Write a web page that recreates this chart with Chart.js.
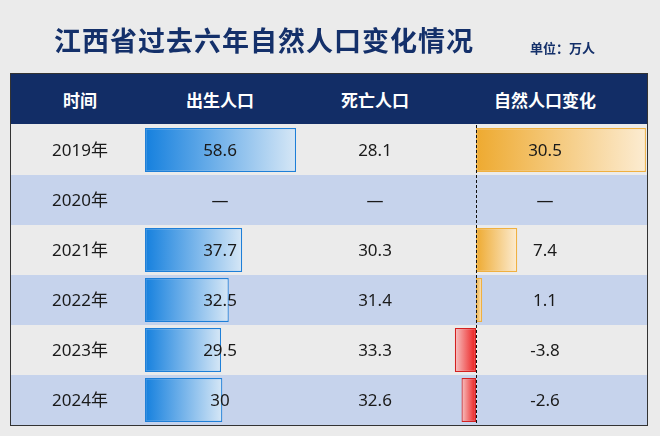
<!DOCTYPE html>
<html><head><meta charset="utf-8">
<script src="https://cdn.jsdelivr.net/npm/chart.js@4/dist/chart.umd.min.js"></script>
<style>
html,body{margin:0;padding:0;background:#ebebeb;font-family:"Noto Sans CJK SC","Noto Sans",sans-serif;}
#wrap{position:relative;width:660px;height:436px;overflow:hidden;}
#title{position:absolute;left:54px;top:20px;font-size:27px;font-weight:bold;color:#14306a;letter-spacing:1px;}
#unit{position:absolute;left:530px;top:38px;font-size:13px;font-weight:bold;color:#14306a;}
#head{position:absolute;left:11px;top:74px;width:637px;height:50px;background:#122d66;}
#head div{position:absolute;top:13px;color:#fff;font-weight:bold;font-size:17px;transform:translateX(-50%);white-space:nowrap;}
#box{position:absolute;left:10px;top:73px;width:636px;height:351px;border:1.5px solid #333;pointer-events:none;}
canvas{position:absolute;left:0;top:0;}
</style></head><body>
<div id="wrap">
<canvas id="c" width="660" height="436"></canvas>
<div id="title">江西省过去六年自然人口变化情况</div>
<div id="unit">单位：万人</div>
<div id="head"><div style="left:69px">时间</div><div style="left:209px">出生人口</div><div style="left:364px">死亡人口</div><div style="left:534px">自然人口变化</div></div>
<div id="box"></div>
</div>
<script>
const years = ['2019年','2020年','2021年','2022年','2023年','2024年'];
const births = [58.6, null, 37.7, 32.5, 29.5, 30];
const deaths = [28.1, null, 30.3, 31.4, 33.3, 32.6];
const change = [30.5, null, 7.4, 1.1, -3.8, -2.6];

function grad(ctx, scaleId, strong, light){
  const ch = ctx.chart, sc = ch.scales[scaleId];
  if(!sc || ctx.raw == null) return strong;
  const x0 = sc.getPixelForValue(0), x1 = sc.getPixelForValue(ctx.raw);
  if (!isFinite(x0) || !isFinite(x1) || x0 === x1) return strong;
  const g = ch.ctx.createLinearGradient(x0,0,x1,0);
  g.addColorStop(0,strong); g.addColorStop(1,light);
  return g;
}
const fmt = v => v == null ? '—' : String(v);

const tablePlugin = {
  id:'table',
  beforeDatasetsDraw(chart){
    const c = chart.ctx, y = chart.scales.y, a = chart.chartArea;
    years.forEach((_,i)=>{
      const yc = y.getPixelForValue(i), h = (a.bottom-a.top)/years.length;
      c.fillStyle = i%2 ? '#c6d3ec' : '#ebebeb';
      c.fillRect(11, yc-h/2, 637, h);
    });
  },
  afterDatasetsDraw(chart){
    const c = chart.ctx, y = chart.scales.y, x2 = chart.scales.x2, a = chart.chartArea;
    const zx = Math.round(x2.getPixelForValue(0))+0.5;
    c.save(); c.strokeStyle='#111'; c.lineWidth=1; c.setLineDash([3,2]);
    c.beginPath(); c.moveTo(zx,a.top); c.lineTo(zx,a.bottom); c.stroke(); c.restore();
    c.fillStyle='#1a1a1a'; c.font='17px "Noto Sans","Noto Sans CJK SC",sans-serif';
    c.textAlign='center'; c.textBaseline='middle';
    years.forEach((yr,i)=>{
      const yc = y.getPixelForValue(i)+1;
      c.fillText(yr, 80, yc);
      c.fillText(fmt(births[i]), 220, yc);
      c.fillText(fmt(deaths[i]), 375, yc);
      c.fillText(fmt(change[i]), 545, yc);
    });
  }
};

new Chart(document.getElementById('c'), {
  type:'bar',
  data:{labels:years, datasets:[
    {data:births, xAxisID:'x', borderWidth:1.2, borderColor:'#1e7fd8',
     backgroundColor:c=>grad(c,'x','#1580de','#d6e7f6')},
    {data:change, xAxisID:'x2', borderWidth:1.2,
     borderColor:c=>c.raw<0?'#d42020':'#f0b040',
     backgroundColor:c=>c.raw<0?grad(c,'x2','#ec1c1c','#f7c4c4'):grad(c,'x2','#eeaa30','#fcecd2')}
  ]},
  options:{
    indexAxis:'y', responsive:false, animation:false, events:[],
    layout:{padding:{top:125,bottom:11,left:0,right:0}},
    datasets:{bar:{grouped:false, categoryPercentage:1, barPercentage:0.88, borderSkipped:false}},
    plugins:{legend:{display:false}, tooltip:{enabled:false}},
    scales:{
      y:{display:false, grid:{display:false}},
      x:{display:false, min:-145/2.577, max:(660-145)/2.577},
      x2:{display:false, min:-476/5.57, max:(660-476)/5.57}
    }
  },
  plugins:[tablePlugin]
});
</script>
</body></html>
